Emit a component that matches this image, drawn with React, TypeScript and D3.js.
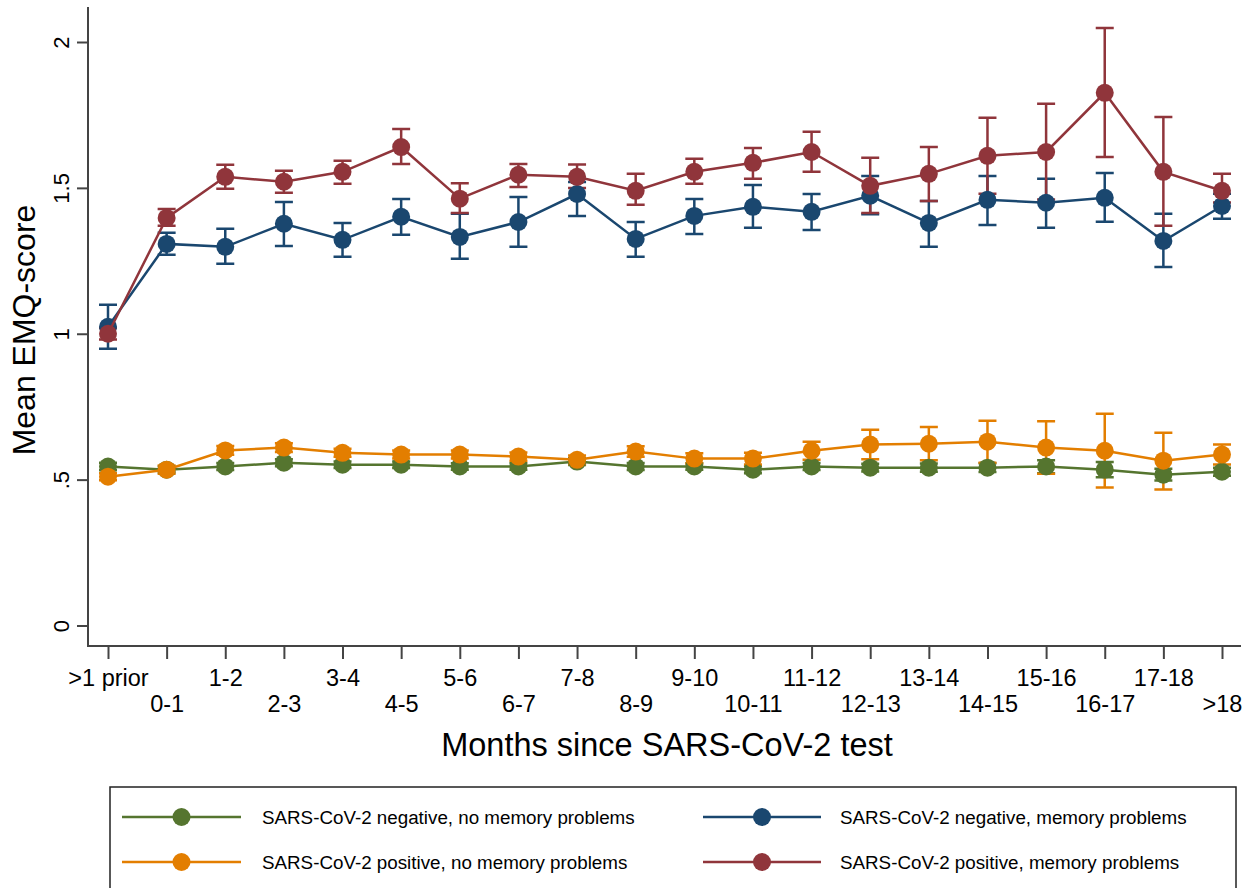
import React, { useEffect, useRef } from "react";
import * as d3 from "d3";

// x categories (months since test)
const categories = [
  ">1 prior", "0-1", "1-2", "2-3", "3-4", "4-5", "5-6", "6-7", "7-8", "8-9",
  "9-10", "10-11", "11-12", "12-13", "13-14", "14-15", "15-16", "16-17", "17-18", ">18",
];

// SARS-CoV-2 negative, no memory problems
const negNoMem = [0.545, 0.534, 0.545, 0.558, 0.551, 0.551, 0.545, 0.545, 0.562, 0.545, 0.545, 0.534, 0.545, 0.541, 0.541, 0.541, 0.545, 0.534, 0.517, 0.527];
const negNoMemLo = [0.532, 0.524, 0.533, 0.546, 0.540, 0.540, 0.534, 0.534, 0.550, 0.533, 0.534, 0.522, 0.533, 0.528, 0.527, 0.526, 0.522, 0.508, 0.497, 0.513];
const negNoMemHi = [0.558, 0.545, 0.557, 0.570, 0.562, 0.562, 0.556, 0.556, 0.574, 0.557, 0.556, 0.546, 0.557, 0.554, 0.555, 0.556, 0.566, 0.560, 0.537, 0.541];

// SARS-CoV-2 negative, memory problems
const negMem = [1.024, 1.308, 1.298, 1.377, 1.322, 1.401, 1.332, 1.383, 1.479, 1.325, 1.404, 1.435, 1.418, 1.473, 1.38, 1.459, 1.449, 1.466, 1.318, 1.438];
const negMemLo = [0.949, 1.271, 1.24, 1.301, 1.264, 1.339, 1.257, 1.298, 1.404, 1.264, 1.342, 1.363, 1.356, 1.41, 1.298, 1.373, 1.363, 1.384, 1.229, 1.394];
const negMemHi = [1.099, 1.346, 1.36, 1.452, 1.38, 1.462, 1.411, 1.469, 1.52, 1.383, 1.462, 1.51, 1.479, 1.541, 1.455, 1.541, 1.531, 1.551, 1.411, 1.48];

// SARS-CoV-2 positive, no memory problems
const posNoMem = [0.51, 0.534, 0.6, 0.61, 0.592, 0.586, 0.586, 0.579, 0.568, 0.596, 0.572, 0.572, 0.599, 0.62, 0.623, 0.63, 0.61, 0.599, 0.565, 0.586];
const posNoMemLo = [0.498, 0.52, 0.585, 0.595, 0.578, 0.572, 0.572, 0.565, 0.553, 0.578, 0.555, 0.552, 0.568, 0.57, 0.566, 0.558, 0.52, 0.473, 0.466, 0.552];
const posNoMemHi = [0.522, 0.548, 0.615, 0.625, 0.606, 0.6, 0.6, 0.593, 0.583, 0.614, 0.59, 0.592, 0.63, 0.671, 0.68, 0.702, 0.7, 0.726, 0.661, 0.62];

// SARS-CoV-2 positive, memory problems
const posMem = [1.0, 1.397, 1.538, 1.521, 1.555, 1.64, 1.463, 1.545, 1.538, 1.49, 1.555, 1.586, 1.623, 1.507, 1.548, 1.61, 1.623, 1.826, 1.555, 1.49];
const posMemLo = [0.98, 1.37, 1.497, 1.483, 1.514, 1.582, 1.414, 1.503, 1.5, 1.442, 1.514, 1.531, 1.555, 1.414, 1.455, 1.48, 1.46, 1.606, 1.37, 1.45];
const posMemHi = [1.02, 1.428, 1.579, 1.559, 1.593, 1.702, 1.516, 1.582, 1.58, 1.548, 1.6, 1.637, 1.692, 1.603, 1.64, 1.74, 1.788, 2.048, 1.743, 1.548];

const yTicks = [0, 0.5, 1, 1.5, 2];
const yTickLabels = ["0", ".5", "1", "1.5", "2"];

const series = [
  { name: "SARS-CoV-2 negative, no memory problems", color: "#55752f", mean: negNoMem, lo: negNoMemLo, hi: negNoMemHi },
  { name: "SARS-CoV-2 negative, memory problems", color: "#1a476f", mean: negMem, lo: negMemLo, hi: negMemHi },
  { name: "SARS-CoV-2 positive, no memory problems", color: "#e37e00", mean: posNoMem, lo: posNoMemLo, hi: posNoMemHi },
  { name: "SARS-CoV-2 positive, memory problems", color: "#90353b", mean: posMem, lo: posMemLo, hi: posMemHi },
];

const width = 1253;
const height = 888;
const font = "'Liberation Sans', Arial, sans-serif";

function EmqChart() {
  const ref = useRef<SVGSVGElement | null>(null);

  useEffect(() => {
    const svg = d3.select(ref.current);
    svg.selectAll("*").remove();

    const axisX = 88;
    const axisY = 646;

    const xScale = d3.scalePoint<string>().domain(categories).range([108, 1222]);
    const yScale = d3.scaleLinear().domain([0, 2]).range([625.5, 42]);

    // axes
    const yAxis = svg
      .append("g")
      .attr("transform", `translate(${axisX},0)`)
      .call(
        d3
          .axisLeft(yScale)
          .tickValues(yTicks)
          .tickSize(11)
          .tickFormat((d, i) => yTickLabels[i])
      );
    yAxis.select(".domain").remove();
    yAxis
      .selectAll("text")
      .attr("x", null)
      .attr("dy", null)
      .attr("transform", "translate(-19,0) rotate(-90)")
      .attr("text-anchor", "middle")
      .attr("fill", "#000")
      .style("font-size", "22px")
      .style("font-family", font);

    const xAxis = svg
      .append("g")
      .attr("transform", `translate(0,${axisY})`)
      .call(d3.axisBottom(xScale).tickSize(13).tickSizeOuter(0));
    xAxis.select(".domain").remove();
    xAxis
      .selectAll("text")
      .attr("y", (d, i) => (i % 2 === 0 ? 40 : 66))
      .attr("dy", null)
      .attr("fill", "#000")
      .style("font-size", "23.5px")
      .style("font-family", font);

    svg.selectAll(".tick line").attr("stroke", "#444").attr("stroke-width", 2);

    // axis lines
    svg
      .append("path")
      .attr("d", `M${axisX},7 V${axisY} H1241`)
      .attr("fill", "none")
      .attr("stroke", "#444")
      .attr("stroke-width", 2);

    // titles
    svg
      .append("text")
      .attr("transform", "translate(35,330) rotate(-90)")
      .attr("text-anchor", "middle")
      .style("font-size", "32px")
      .style("font-family", font)
      .text("Mean EMQ-score");

    svg
      .append("text")
      .attr("x", 667)
      .attr("y", 756)
      .attr("text-anchor", "middle")
      .style("font-size", "32.5px")
      .style("font-family", font)
      .text("Months since SARS-CoV-2 test");

    // error bars
    const capW = 9;
    series.forEach((s) => {
      const g = svg.append("g");
      categories.forEach((c, i) => {
        const x = xScale(c)!;
        const path = d3.path();
        path.moveTo(x, yScale(s.lo[i]));
        path.lineTo(x, yScale(s.hi[i]));
        path.moveTo(x - capW, yScale(s.lo[i]));
        path.lineTo(x + capW, yScale(s.lo[i]));
        path.moveTo(x - capW, yScale(s.hi[i]));
        path.lineTo(x + capW, yScale(s.hi[i]));
        g.append("path")
          .attr("d", path.toString())
          .attr("fill", "none")
          .attr("stroke", s.color)
          .attr("stroke-width", 2.5);
      });
    });

    // connected lines + markers
    const myLine = d3
      .line<number>()
      .x((v, i) => xScale(categories[i])!)
      .y((v) => yScale(v));

    series.forEach((s) => {
      svg
        .append("path")
        .datum(s.mean)
        .attr("d", myLine)
        .attr("fill", "none")
        .attr("stroke", s.color)
        .attr("stroke-width", 2.5);
      svg
        .append("g")
        .selectAll("circle")
        .data(s.mean)
        .join("circle")
        .attr("cx", (v, i) => xScale(categories[i])!)
        .attr("cy", (v) => yScale(v))
        .attr("r", 9)
        .attr("fill", s.color);
    });

    // legend
    const legend = svg.append("g");
    legend
      .append("rect")
      .attr("x", 110)
      .attr("y", 787)
      .attr("width", 1126)
      .attr("height", 120)
      .attr("fill", "none")
      .attr("stroke", "#222")
      .attr("stroke-width", 1.5);

    const legendPos = [
      { x1: 122, x2: 241, y: 817, tx: 262 },
      { x1: 703, x2: 821, y: 817, tx: 840 },
      { x1: 122, x2: 241, y: 862, tx: 262 },
      { x1: 703, x2: 821, y: 862, tx: 840 },
    ];
    series.forEach((s, i) => {
      const p = legendPos[i];
      legend
        .append("line")
        .attr("x1", p.x1)
        .attr("x2", p.x2)
        .attr("y1", p.y)
        .attr("y2", p.y)
        .attr("stroke", s.color)
        .attr("stroke-width", 2.5);
      legend
        .append("circle")
        .attr("cx", (p.x1 + p.x2) / 2)
        .attr("cy", p.y)
        .attr("r", 9)
        .attr("fill", s.color);
      legend
        .append("text")
        .attr("x", p.tx)
        .attr("y", p.y)
        .attr("dy", "0.35em")
        .style("font-size", "18.8px")
        .style("font-family", font)
        .text(s.name);
    });
  }, []);

  return <svg ref={ref} width={width} height={height} style={{ display: "block", background: "#fff" }} />;
}

export default function App() {
  useEffect(() => {
    document.body.style.margin = "0";
  }, []);
  return <EmqChart />;
}
